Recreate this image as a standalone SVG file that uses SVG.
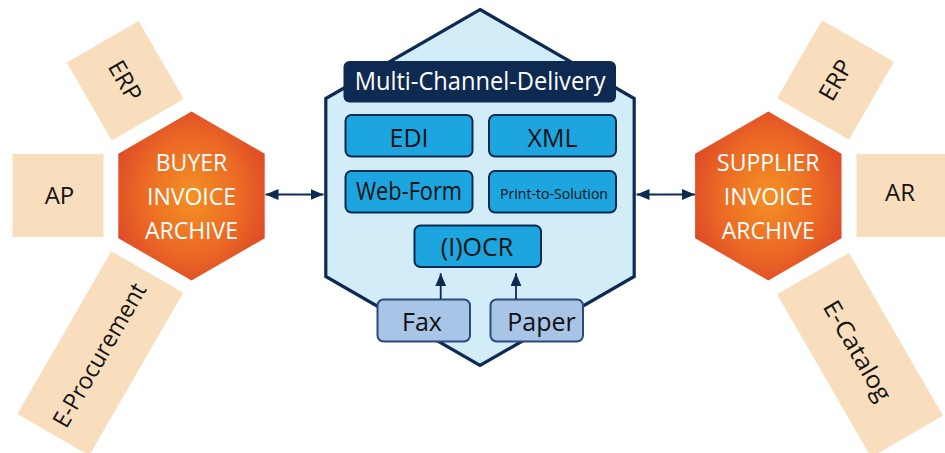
<svg xmlns="http://www.w3.org/2000/svg" width="945" height="453" viewBox="0 0 945 453">
  <defs>
    <radialGradient id="orangeHex" cx="50%" cy="50%" r="55%">
      <stop offset="0" stop-color="#F39224"/>
      <stop offset="0.6" stop-color="#EC6A25"/>
      <stop offset="1" stop-color="#DE4B27"/>
    </radialGradient>
    <marker id="arrowHead" markerUnits="userSpaceOnUse" markerWidth="13" markerHeight="11" refX="13" refY="5.5" orient="auto-start-reverse">
      <path d="M0,0 L13,5.5 L0,11 z" fill="#0E2A50"/>
    </marker>
    <style>
      text { font-family: "Open Sans", "Liberation Sans", sans-serif; text-anchor: middle; }
      .peach { fill: #F9DEBD; }
      .sysLabel { font-size: 24px; fill: #141414; }
      .hexLabel { font-size: 23px; fill: #FFFFFF; }
      .channel { fill: #1CA5DE; stroke: #0E2A50; stroke-width: 2; }
      .chLabel { font-size: 25px; fill: #111111; }
      .paperIn { fill: #A8C4E6; stroke: #2A4A78; stroke-width: 2; }
      .conn { stroke: #0E2A50; stroke-width: 1.8; fill: none; }
    </style>
  </defs>

  <rect width="945" height="453" fill="#FFFFFF"/>

  <!-- buyer-side systems -->
  <g id="buyer-erp" transform="translate(125.2,80.7) rotate(60)">
    <rect class="peach" x="-45" y="-41.5" width="90" height="83"/>
    <text class="sysLabel" x="0" y="8.5">ERP</text>
  </g>
  <g id="buyer-ap">
    <rect class="peach" x="12.5" y="154" width="91" height="83"/>
    <text class="sysLabel" x="59.5" y="204">AP</text>
  </g>
  <g id="buyer-eprocurement" transform="translate(100.3,353.3) rotate(-60)">
    <rect class="peach" x="-94" y="-41.5" width="188" height="83"/>
    <text class="sysLabel" x="-2" y="8.5" textLength="162" lengthAdjust="spacingAndGlyphs">E-Procurement</text>
  </g>

  <!-- buyer archive -->
  <g id="buyer-archive">
    <path d="M191.5,111.5 L264.7,153.75 L264.7,238.25 L191.5,280.5 L118.3,238.25 L118.3,153.75 Z" fill="url(#orangeHex)"/>
    <text class="hexLabel" x="191.5" y="171">BUYER</text>
    <text class="hexLabel" x="191.5" y="205">INVOICE</text>
    <text class="hexLabel" x="191.5" y="239">ARCHIVE</text>
  </g>

  <!-- central multi-channel hub -->
  <g id="delivery-hub">
    <path d="M480,9.5 L634.2,98.5 L634.2,276.5 L480,365.5 L325.8,276.5 L325.8,98.5 Z" fill="#D3EDF8" stroke="#0E2A50" stroke-width="3.2" stroke-linejoin="miter"/>
    <rect x="343.5" y="61" width="272.5" height="41.5" rx="6" fill="#0E2A50"/>
    <text x="480.2" y="90" font-size="26" fill="#FFFFFF" textLength="251" lengthAdjust="spacingAndGlyphs">Multi-Channel-Delivery</text>
  </g>
  <g id="ch-edi">
    <rect class="channel" x="345.5" y="115" width="127" height="41.5" rx="6"/>
    <text class="chLabel" x="409" y="146.5">EDI</text>
  </g>
  <g id="ch-xml">
    <rect class="channel" x="489" y="115" width="127" height="41.5" rx="6"/>
    <text class="chLabel" x="552.5" y="146.5">XML</text>
  </g>
  <g id="ch-webform">
    <rect class="channel" x="345.5" y="171" width="127" height="41.5" rx="6"/>
    <text class="chLabel" x="409" y="200" textLength="106" lengthAdjust="spacingAndGlyphs">Web-Form</text>
  </g>
  <g id="ch-print">
    <rect class="channel" x="489" y="171" width="127" height="41.5" rx="6"/>
    <text class="chLabel" x="554" y="199" style="font-size:14.5px" textLength="108" lengthAdjust="spacingAndGlyphs">Print-to-Solution</text>
  </g>
  <g id="ch-iocr">
    <rect class="channel" x="414.5" y="225.5" width="126.5" height="41.5" rx="6"/>
    <text class="chLabel" x="477" y="256">(I)OCR</text>
  </g>
  <g id="in-fax">
    <rect class="paperIn" x="377.5" y="299.5" width="92.5" height="42" rx="6"/>
    <text class="chLabel" x="422" y="331">Fax</text>
  </g>
  <g id="in-paper">
    <rect class="paperIn" x="490.5" y="299.5" width="92.5" height="42" rx="6"/>
    <text class="chLabel" x="541.5" y="331">Paper</text>
  </g>

  <!-- supplier archive -->
  <g id="supplier-archive">
    <path d="M768.3,111.5 L841.5,153.75 L841.5,238.25 L768.3,280.5 L695.1,238.25 L695.1,153.75 Z" fill="url(#orangeHex)"/>
    <text class="hexLabel" x="768.3" y="171">SUPPLIER</text>
    <text class="hexLabel" x="768.3" y="205">INVOICE</text>
    <text class="hexLabel" x="768.3" y="239">ARCHIVE</text>
  </g>

  <!-- supplier-side systems -->
  <g id="supplier-erp" transform="translate(835.5,80) rotate(-60)">
    <rect class="peach" x="-45" y="-41.5" width="90" height="83"/>
    <text class="sysLabel" x="0" y="8.5">ERP</text>
  </g>
  <g id="supplier-ar">
    <rect class="peach" x="856.5" y="154" width="91" height="83"/>
    <text class="sysLabel" x="900" y="201">AR</text>
  </g>
  <g id="supplier-ecatalog" transform="translate(860,355) rotate(60)">
    <rect class="peach" x="-94" y="-41.5" width="188" height="83"/>
    <text class="sysLabel" x="-5" y="8.5" textLength="112" lengthAdjust="spacingAndGlyphs">E-Catalog</text>
  </g>

  <!-- connectors -->
  <g id="connectors">
    <line class="conn" x1="265.5" y1="194.5" x2="323.5" y2="194.5" marker-start="url(#arrowHead)" marker-end="url(#arrowHead)"/>
    <line class="conn" x1="636.5" y1="194.5" x2="695" y2="194.5" marker-start="url(#arrowHead)" marker-end="url(#arrowHead)"/>
    <line class="conn" x1="440.7" y1="299" x2="440.7" y2="273.3" marker-end="url(#arrowHead)"/>
    <line class="conn" x1="516" y1="299" x2="516" y2="273.3" marker-end="url(#arrowHead)"/>
  </g>
</svg>
